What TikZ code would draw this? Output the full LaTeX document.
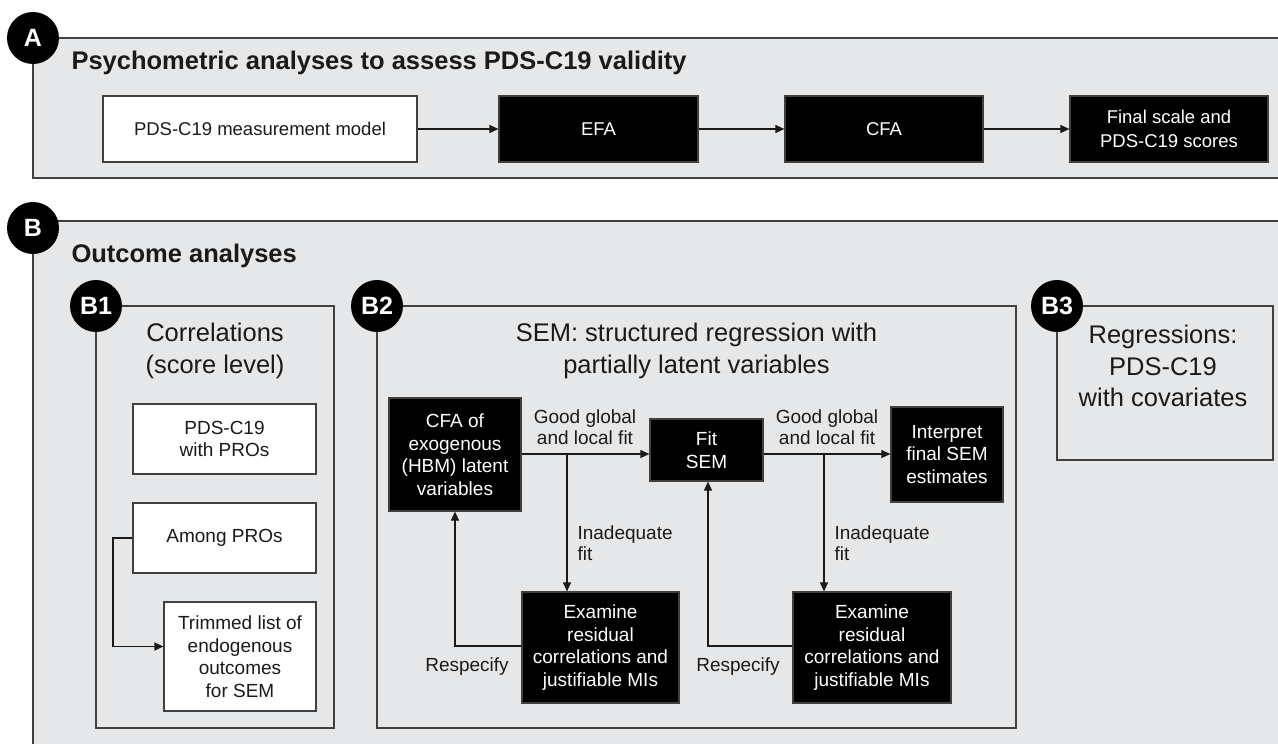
\documentclass[tikz,border=0pt]{standalone}
\usepackage{fontspec}
\setmainfont{Liberation Sans}
\usetikzlibrary{arrows.meta}

\definecolor{panelgray}{HTML}{E6E7E8}
\definecolor{edgegray}{HTML}{404040}
\definecolor{inkgray}{HTML}{1A1A1A}

\begin{document}
\begin{tikzpicture}[x=1pt, y=-1pt,
        panel/.style={draw=edgegray, line width=1.6pt, fill=panelgray},
        tag/.style={circle, fill=black, text=white, minimum size=52pt, inner sep=0pt,
            font=\fontsize{25}{30}\selectfont\bfseries},
        heading/.style={anchor=base west, text=inkgray, font=\fontsize{25.5}{30}\selectfont\bfseries},
        subhead/.style={align=center, text=inkgray, font=\fontsize{25.5}{31.5}\selectfont},
        whitebox/.style={draw=edgegray, line width=1.2pt, fill=white, text=inkgray, align=center,
            inner sep=0pt, font=\fontsize{19}{22.5}\selectfont},
        blackbox/.style={whitebox, fill=black, text=white},
        abox/.style={font=\fontsize{18.5}{24}\selectfont, minimum height=66pt},
        lbl/.style={text=inkgray, font=\fontsize{19}{20.5}\selectfont},
        flow/.style={-{Triangle[length=9pt,width=8pt]}, line width=1.2pt, draw=inkgray},
    ]
    \useasboundingbox (0,0) rectangle (1278,744);
    \clip (0,0) rectangle (1278,744);
    \fill[white] (0,0) rectangle (1278,744);

    % panel A
    \draw[panel] (33,38) rectangle (1300,178);
    \node[tag] (tagA) at (33,38) {A};
    \node[heading] (headA) at (68,69) {Psychometric analyses to assess PDS-C19 validity};

    \node[whitebox, abox, minimum width=314pt] (meas) at (260,129) {PDS-C19 measurement model};
    \node[blackbox, abox, minimum width=199pt] (efa) at (598.5,129) {EFA};
    \node[blackbox, abox, minimum width=198pt] (cfa) at (884,129) {CFA};
    \node[blackbox, abox, minimum width=198pt] (final) at (1169,129) {Final scale and\\PDS-C19 scores};

    \draw[flow] (meas) -- (efa);
    \draw[flow] (efa) -- (cfa);
    \draw[flow] (cfa) -- (final);

    % panel B
    \draw[panel] (33,221) rectangle (1300,770);
    \node[tag] (tagB) at (33,228) {B};
    \node[heading] (headB) at (68,262) {Outcome analyses};

    \draw[panel] (96,306) rectangle (334,728);
    \draw[panel] (377,306) rectangle (1016,728);
    \draw[panel] (1057,306) rectangle (1273,460);
    \node[tag] (tagBa) at (96,306) {B1};
    \node[tag] (tagBb) at (377,306) {B2};
    \node[tag] (tagBc) at (1057,306) {B3};

    % B1
    \node[subhead] (corr) at (215,351) {Correlations\\(score level)};
    \node[whitebox, minimum width=183pt, minimum height=70pt] (pdswith) at (224.5,439) {PDS-C19\\with PROs};
    \node[whitebox, minimum width=183pt, minimum height=70pt] (among) at (224.5,538) {Among PROs};
    \node[whitebox, minimum width=152pt, minimum height=109pt] (trimmed) at (240,656.5)
        {Trimmed list of\\endogenous\\outcomes\\for SEM};
    \coordinate (turn) at (113,538);
    \draw[flow] (among.west) -- (turn) |- ([yshift=10pt]trimmed.west);

    % B2
    \node[subhead] (semhead) at (696.5,351) {SEM: structured regression with\\partially latent variables};
    \node[blackbox, minimum width=132pt, minimum height=113pt] (cfaexo) at (455,454.5)
        {CFA of\\exogenous\\(HBM) latent\\variables};
    \node[blackbox, minimum width=113pt, minimum height=62pt] (fitsem) at (706.5,450) {Fit\\SEM};
    \node[blackbox, minimum width=112pt, minimum height=95pt] (interp) at (947,454.5)
        {Interpret\\final SEM\\estimates};
    \node[blackbox, minimum width=157pt, minimum height=111pt] (exama) at (600.5,647.5)
        {Examine\\residual\\correlations and\\justifiable MIs};
    \node[blackbox, minimum width=158pt, minimum height=111pt] (examb) at (872,647.5)
        {Examine\\residual\\correlations and\\justifiable MIs};

    \coordinate (splita) at (567,454);
    \coordinate (splitb) at (824,454);
    \draw[flow] (cfaexo.east |- splita) -- (fitsem.west |- splita);
    \draw[flow] (fitsem.east |- splitb) -- (interp.west |- splitb);
    \draw[flow] (splita) -- (splita |- exama.north);
    \draw[flow] (splitb) -- (splitb |- examb.north);
    \draw[flow] ([yshift=1.5pt]exama.west) -| (cfaexo.south);
    \draw[flow] ([yshift=1.5pt]examb.west) -| ([xshift=1.5pt]fitsem.south);

    \node[lbl, align=center] (gooda) at (585,427) {Good global\\and local fit};
    \node[lbl, align=center] (goodb) at (827,427) {Good global\\and local fit};
    \node[lbl, align=left, anchor=west] (inada) at (574,543) {Inadequate\\fit};
    \node[lbl, align=left, anchor=west] (inadb) at (831,543) {Inadequate\\fit};
    \node[lbl] (respa) at (467,667) {Respecify};
    \node[lbl] (respb) at (738,667) {Respecify};

    % B3
    \node[subhead] (regr) at (1163,366) {Regressions:\\PDS-C19\\with covariates};
\end{tikzpicture}
\end{document}
